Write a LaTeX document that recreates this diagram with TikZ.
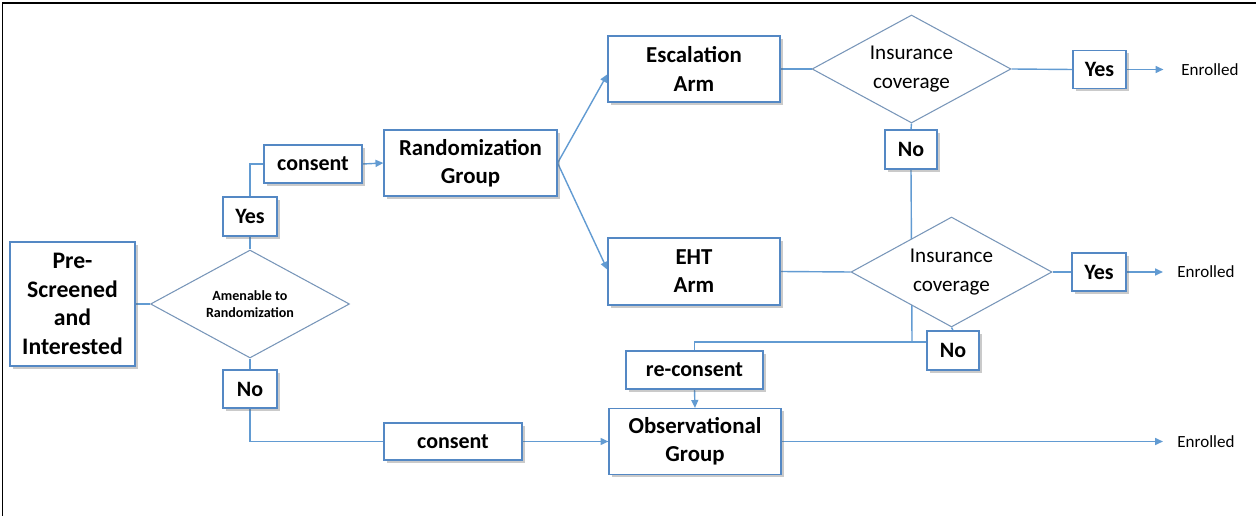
\documentclass[tikz,border=0pt]{standalone}
\usepackage{fontspec}
\setmainfont{Carlito}
\usetikzlibrary{shapes.geometric,arrows.meta,shadows,backgrounds}
\definecolor{boxblue}{RGB}{84,136,196}
\definecolor{lineblue}{RGB}{98,155,210}
\definecolor{diablue}{RGB}{120,150,185}
\tikzset{
  px/.style={x=0.02cm,y=-0.02cm},
  box/.style={draw=boxblue, line width=0.7pt, fill=white, align=center, inner sep=0pt,
    font=\bfseries\fontsize{13}{16}\selectfont,
    drop shadow={opacity=0.35, shadow xshift=1.6pt, shadow yshift=-1.6pt, fill=black!60}},
  lbl/.style={box, font=\bfseries\fontsize{12.5}{15}\selectfont},
  dia/.style={diamond, aspect=1.84, draw=diablue, line width=0.6pt, fill=white, align=center, inner sep=0pt,
    font=\fontsize{12}{16}\selectfont},
  enr/.style={inner sep=0pt, anchor=west, font=\fontsize{9.7}{12}\selectfont},
  conn/.style={draw=lineblue, line width=0.8pt},
  arr/.style={conn, -{Triangle[length=4.5pt,width=4pt]}},
}
\begin{document}
\begin{tikzpicture}[px]
\useasboundingbox (0,0) rectangle (1256,516);
\draw[line width=1.1pt] (2.5,516) -- (2.5,3) -- (1256,3);

\node[box, minimum width=2.5cm, minimum height=2.48cm, font=\bfseries\fontsize{13.5}{16.2}\selectfont] (pre) at (72.5,304) {Pre-\\Screened\\and\\Interested};
\node[dia, minimum width=3.98cm, minimum height=2.16cm, font=\bfseries\fontsize{8}{9.5}\selectfont] (am) at (250,304) {Amenable to\\Randomization};
\node[lbl, minimum width=1.08cm, minimum height=0.78cm] (yes1) at (250,216.5) {Yes};
\node[lbl, minimum width=1.08cm, minimum height=0.76cm] (no1) at (250,389) {No};
\node[lbl, minimum width=1.96cm, minimum height=0.76cm] (cons1) at (313,164) {consent};
\node[box, minimum width=3.46cm, minimum height=1.32cm] (rand) at (470.5,163) {Randomization\\Group};
\node[box, minimum width=3.44cm, minimum height=1.32cm] (esc) at (694,69) {Escalation\\Arm};
\node[box, minimum width=3.44cm, minimum height=1.34cm] (eht) at (694,271.5) {EHT\\Arm};
\node[dia, minimum width=3.98cm, minimum height=2.16cm] (ins1) at (911.5,69) {Insurance\\coverage};
\node[dia, minimum width=4.02cm, minimum height=2.2cm] (ins2) at (951.5,272) {Insurance\\coverage};
\node[lbl, minimum width=1.06cm, minimum height=0.76cm] (yes2) at (1099.5,69.5) {Yes};
\node[lbl, minimum width=1.08cm, minimum height=0.76cm] (yes3) at (1099,272) {Yes};
\node[lbl, minimum width=1.04cm, minimum height=0.78cm] (no2) at (911,149.5) {No};
\node[lbl, minimum width=1.04cm, minimum height=0.78cm] (no3) at (953,350.5) {No};
\node[lbl, minimum width=2.74cm, minimum height=0.76cm] (recons) at (694.5,370) {re-consent};
\node[box, minimum width=3.44cm, minimum height=1.32cm] (obs) at (695,441.5) {Observational\\Group};
\node[lbl, minimum width=2.76cm, minimum height=0.74cm] (cons2) at (453,441.5) {consent};
\node[enr] (enr1) at (1181,69.5) {Enrolled};
\node[enr] (enr2) at (1177,272) {Enrolled};
\node[enr] (enr3) at (1177,441.5) {Enrolled};
\coordinate (j) at (912,342);

\begin{scope}[on background layer]
\draw[conn] (pre.east) -- (am.west);
\draw[conn] (am.north) -- (yes1.south);
\draw[conn] (yes1.north) |- (cons1.west);
\draw[arr] (cons1.east) -- (rand.west);
\draw[arr] (rand.east) -- ([yshift=-3]esc.west);
\draw[arr] (rand.east) -- ([yshift=1]eht.west);
\draw[conn] (esc.east) -- (ins1.west);
\draw[conn] (ins1.east) -- (yes2.west);
\draw[arr] (yes2.east) -- ([xshift=-10]enr1.west);
\draw[conn] (ins1.south) -- (no2.north);
\draw[conn] (no2.south) -- (j);
\draw[conn] (eht.east) -- (ins2.west);
\draw[conn] (ins2.east) -- (yes3.west);
\draw[arr] (yes3.east) -- ([xshift=-8]enr2.west);
\draw[conn] (ins2.south) -- (no3.north);
\draw[conn] (no3.west |- j) -- (recons.north |- j) -- (recons.north);
\draw[arr] (recons.south) -- (obs.north);
\draw[conn] (am.south) -- (no1.north);
\draw[conn] (no1.south) |- (cons2.west);
\draw[arr] (cons2.east) -- (obs.west);
\draw[arr] (obs.east) -- ([xshift=-8]enr3.west);
\end{scope}
\end{tikzpicture}
\end{document}
